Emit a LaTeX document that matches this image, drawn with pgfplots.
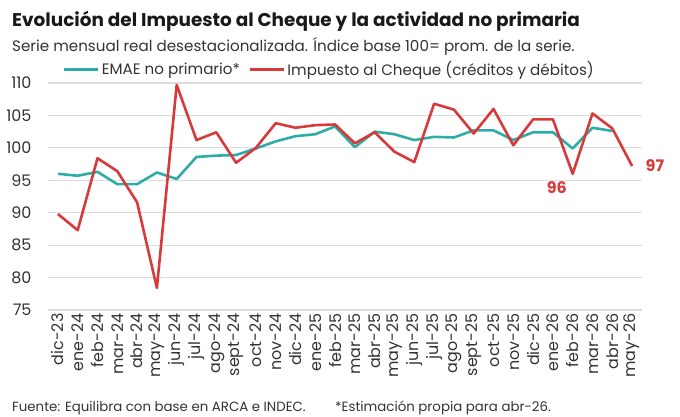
\documentclass[border=0pt]{standalone}
\usepackage{pgfplots}
\pgfplotsset{compat=1.18}
\usepackage{fontspec}
\setmainfont{Poppins}
\definecolor{emae}{HTML}{2EADA6}
\definecolor{imp}{HTML}{D83A3C}
\definecolor{txt}{HTML}{333333}
\definecolor{gridc}{HTML}{D9DDE2}
\begin{document}
\begin{tikzpicture}
\path[use as bounding box] (0bp,0bp) rectangle (680bp,417bp);
\node[anchor=base west, inner sep=0, font=\bfseries\fontsize{18.5}{22}\selectfont, text=black!90] at (12bp,390bp) {Evolución del Impuesto al Cheque y la actividad no primaria};
\node[anchor=base west, inner sep=0, font=\fontsize{15.2}{18}\selectfont, text=txt] at (12bp,365bp) {Serie mensual real desestacionalizada. Índice base 100= prom. de la serie.};
\node[anchor=base west, inner sep=0, font=\fontsize{13.4}{16}\selectfont, text=txt] at (12bp,6bp) {Fuente: Equilibra con base en ARCA e INDEC.};
\node[anchor=base west, inner sep=0, font=\fontsize{13.4}{16}\selectfont, text=txt] at (335bp,6bp) {*Estimación propia para abr-26.};
\begin{axis}[
  at={(48bp,107bp)}, anchor=south west, scale only axis,
  width=594bp, height=227bp,
  xmin=-0.5, xmax=29.5, ymin=75, ymax=110,
  ytick={75,80,...,110},
  xtick={0,...,29},
  xticklabels={dic-23,ene-24,feb-24,mar-24,abr-24,may-24,jun-24,jul-24,ago-24,sept-24,oct-24,nov-24,dic-24,ene-25,feb-25,mar-25,abr-25,may-25,jun-25,jul-25,ago-25,sept-25,oct-25,nov-25,dic-25,ene-26,feb-26,mar-26,abr-26,may-26},
  xticklabel style={rotate=90, anchor=east, font=\fontsize{16}{18}\selectfont, text=txt},
  yticklabel style={anchor=east, font=\fontsize{16}{18}\selectfont, text=txt, xshift=-13bp},
  /pgf/number format/assume math mode=true,
  axis line style={draw=none},
  major tick length=0pt,
  ymajorgrids, grid style={gridc, line width=1.2bp},
  clip=false,
  legend columns=2,
  legend style={at={(axis description cs:0.0,1.06)}, xshift=15bp, anchor=west, draw=none, fill=none, inner xsep=0pt, font=\fontsize{15.2}{18}\selectfont, text=txt, /tikz/every even column/.style={column sep=7bp}},
  legend image code/.code={\draw[#1] (0,0) -- (34bp,0);},
]
\addplot[emae, line width=2.6bp, line join=round] coordinates {
(0,96.0)(1,95.7)(2,96.3)(3,94.4)(4,94.4)(5,96.2)(6,95.2)(7,98.6)(8,98.8)(9,98.9)
(10,99.9)(11,101.0)(12,101.8)(13,102.1)(14,103.3)(15,100.1)(16,102.5)(17,102.1)(18,101.2)(19,101.7)
(20,101.6)(21,102.7)(22,102.7)(23,101.2)(24,102.4)(25,102.4)(26,99.9)(27,103.1)(28,102.6)};
\addlegendentry{EMAE no primario*}
\addplot[imp, line width=2.6bp, line join=round] coordinates {
(0,89.8)(1,87.3)(2,98.4)(3,96.4)(4,91.6)(5,78.4)(6,109.7)(7,101.2)(8,102.4)(9,97.7)
(10,100.0)(11,103.8)(12,103.1)(13,103.5)(14,103.6)(15,100.7)(16,102.4)(17,99.4)(18,97.8)(19,106.8)
(20,105.9)(21,102.2)(22,106.0)(23,100.4)(24,104.4)(25,104.4)(26,96.0)(27,105.3)(28,103.0)(29,97.2)};
\addlegendentry{Impuesto al Cheque (créditos y débitos)}
\node[text=imp, font=\bfseries\fontsize{16}{18}\selectfont] at (axis cs:25.2,93.9) {96};
\node[text=imp, font=\bfseries\fontsize{16}{18}\selectfont] at (axis cs:30.15,97.2) {97};
\end{axis}
\end{tikzpicture}
\end{document}
